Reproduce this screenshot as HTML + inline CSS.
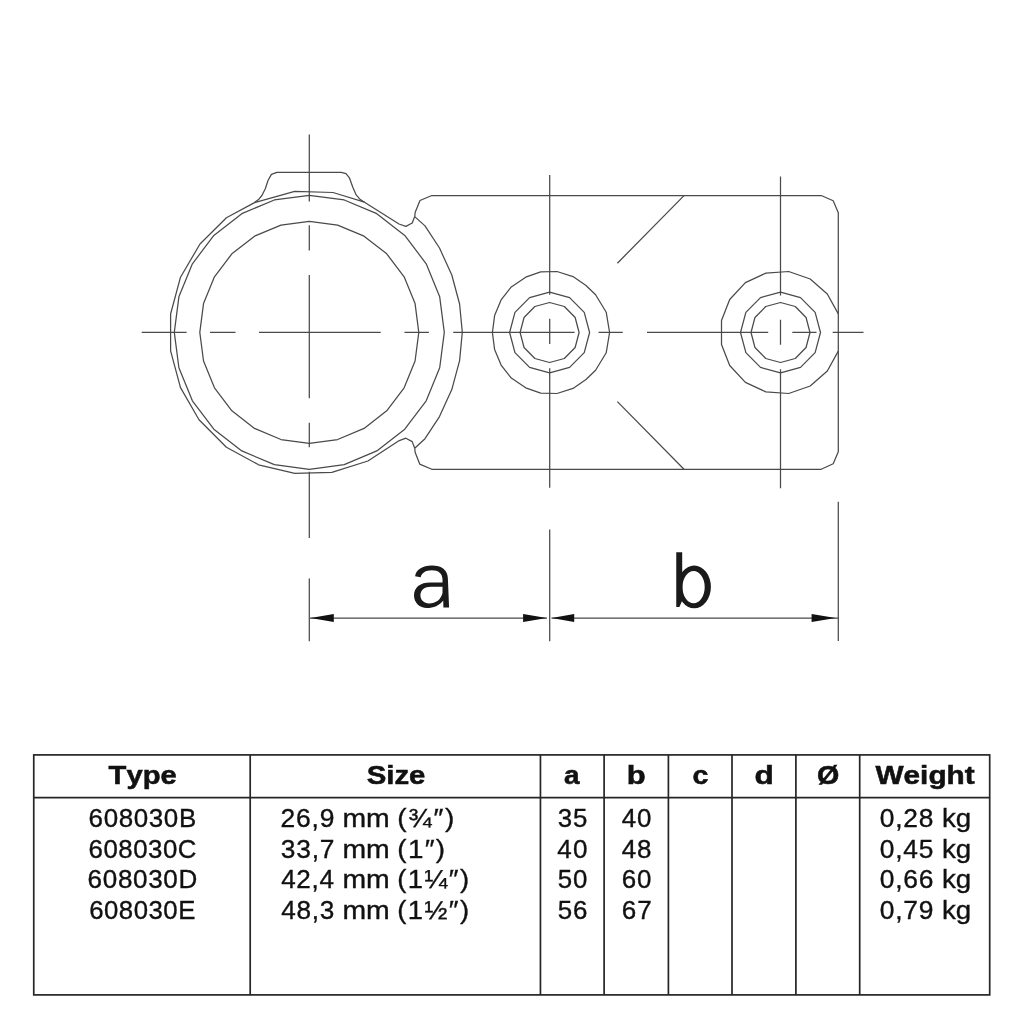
<!DOCTYPE html>
<html><head><meta charset="utf-8"><style>
html,body{margin:0;padding:0;background:#fff;width:1024px;height:1024px;overflow:hidden}
svg{display:block;filter:grayscale(1)}
text{font-family:"Liberation Sans",sans-serif;font-kerning:none}
</style></head><body>
<svg width="1024" height="1024" viewBox="0 0 1024 1024">
<rect width="1024" height="1024" fill="#fff"/>
<g fill="none" stroke="#4a4a4a" stroke-width="1.25" stroke-linejoin="round" stroke-linecap="butt">
<path d="M418.80,332.30 L415.07,303.57 L404.13,276.80 L386.73,253.81 L364.05,236.17 L337.64,225.08 L309.30,221.30 L280.96,225.08 L254.55,236.17 L231.87,253.81 L214.47,276.80 L203.53,303.57 L199.80,332.30 L203.53,361.03 L214.47,387.80 L231.87,410.79 L254.55,428.43 L280.96,439.52 L309.30,443.30 L337.64,439.52 L364.05,428.43 L386.73,410.79 L404.13,387.80 L415.07,361.03 Z"/>
<path d="M444.30,332.30 L439.70,296.84 L426.21,263.80 L404.76,235.43 L376.80,213.65 L344.24,199.97 L309.30,195.30 L274.36,199.97 L241.80,213.65 L213.84,235.43 L192.39,263.80 L178.90,296.84 L174.30,332.30 L178.90,367.76 L192.39,400.80 L213.84,429.17 L241.80,450.95 L274.36,464.63 L309.30,469.30 L344.24,464.63 L376.80,450.95 L404.76,429.17 L426.21,400.80 L439.70,367.76 Z"/>
<path d="M414.70,216.60 L412.20,223.00 L405.90,226.40 L399.00,224.00 L364.50,202.20 L360.30,199.60 L356.20,194.90 L352.80,187.30 L349.40,177.80 L346.00,173.70 L341.20,172.30 L276.90,172.30 L271.40,174.40 L268.00,180.50 L265.30,188.70 L261.90,195.50 L258.50,199.60 L254.50,202.60 L226.40,217.70 L200.00,244.00 L180.50,277.20 L170.60,314.00 L170.60,350.80 L180.50,387.60 L199.00,419.80 L226.40,447.20 L258.60,464.80 L294.80,473.40 L331.90,472.40 L367.90,461.00 L399.30,440.60 L405.90,438.20 L412.20,441.60 L414.70,448.20"/>
<path d="M254.50,202.60 L294.70,191.40 L333.00,192.50 L364.50,202.20"/>
<path d="M414.70,216.60 L415.20,212.20 L420.00,200.50 L431.80,195.50 L821.20,195.50 L833.20,200.80 L838.30,212.80 L838.30,451.80 L833.20,463.80 L821.20,469.30 L431.80,469.30 L419.70,464.10 L415.20,452.60 L414.70,448.20"/>
<path d="M414.70,216.60 L425.00,225.90 L439.50,248.00 L451.80,275.00 L459.60,304.00 L462.30,332.30 L459.60,360.60 L451.80,389.60 L439.50,416.60 L425.00,438.70 L414.70,448.20"/>
<path d="M684,195.6 L617.4,263.2 M684,469.2 L617.4,401.6"/>
<path d="M492.40,332.50 L494.60,315.60 L501.10,299.90 L511.30,286.90 L525.70,277.20 L540.70,271.80 L557.00,271.50 L573.00,276.60 L586.00,285.50 L595.60,294.70 L606.20,312.20 L609.60,332.50 L606.20,352.80 L595.60,370.30 L586.00,379.50 L573.00,388.40 L557.00,393.50 L540.70,393.20 L525.70,387.80 L511.30,378.10 L501.10,365.10 L494.60,349.40 Z"/>
<path d="M549.60,292.20 L529.60,297.60 L514.96,312.35 L509.60,332.50 L514.96,352.65 L529.60,367.40 L549.60,372.80 L569.60,367.40 L584.24,352.65 L589.60,332.50 L584.24,312.35 L569.60,297.60 Z"/>
<path d="M549.60,302.50 L534.85,306.52 L524.05,317.50 L520.10,332.50 L524.05,347.50 L534.85,358.48 L549.60,362.50 L564.35,358.48 L575.15,347.50 L579.10,332.50 L575.15,317.50 L564.35,306.52 Z"/>
<path d="M838.30,313.90 L827.30,294.00 L810.20,279.00 L788.70,271.50 L765.90,273.10 L745.40,282.60 L729.70,299.50 L721.50,320.50 L721.50,344.50 L729.70,365.50 L745.40,382.40 L765.90,391.90 L788.70,393.50 L810.20,386.00 L827.30,371.00 L838.30,351.10"/>
<path d="M780.50,292.20 L760.50,297.60 L745.86,312.35 L740.50,332.50 L745.86,352.65 L760.50,367.40 L780.50,372.80 L800.50,367.40 L815.14,352.65 L820.50,332.50 L815.14,312.35 L800.50,297.60 Z"/>
<path d="M780.50,302.50 L765.75,306.52 L754.95,317.50 L751.00,332.50 L754.95,347.50 L765.75,358.48 L780.50,362.50 L795.25,358.48 L806.05,347.50 L810.00,332.50 L806.05,317.50 L795.25,306.52 Z"/>
<path d="M141.7,332.4 L186.6,332.4 M210,332.4 L235.5,332.4 M259,332.4 L380.7,332.4 M404.5,332.4 L428.9,332.4 M453.2,332.4 L574.6,332.4 M598.5,332.4 L622.8,332.4 M647,332.4 L768.2,332.4 M792.3,332.4 L816.5,332.4 M832.7,332.4 L863.5,332.4 M309.3,134.6 L309.3,201.4 M309.3,225.2 L309.3,250.5 M309.3,275 L309.3,398.2 M309.3,422.7 L309.3,447.3 M309.3,471.8 L309.3,537.9 M309.3,578.4 L309.3,641.3 M549.7,175 L549.7,294.7 M549.7,318.7 L549.7,344.1 M549.7,368.2 L549.7,487.8 M549.7,529.4 L549.7,641.3 M780.5,176.4 L780.5,295.4 M780.5,319.8 L780.5,344.8 M780.5,369.2 L780.5,488.2 M838.3,501.8 L838.3,641.1" stroke-width="1.25"/>
<path d="M310,618.0 L547,618.0 M551.5,618.0 L838,618.0" stroke-width="1.25"/>
<path d="M310.5,618.0 L333.8,614.1 L333.8,621.9 Z M546.8,618.0 L523.1,614.1 L523.1,621.9 Z M551.6,618.0 L574.2,614.1 L574.2,621.9 Z M835.6,618.0 L811.6,614.1 L811.6,621.9 Z " fill="#111" stroke="none"/>
</g>
<g fill="none" stroke="#262626" stroke-width="1.7">
<rect x="33.75" y="754.9" width="955.95" height="240.0" fill="none"/><path d="M33.75,797.6 L989.7,797.6 M250.2,754.9 L250.2,994.9 M540.45,754.9 L540.45,994.9 M604.1,754.9 L604.1,994.9 M668.4,754.9 L668.4,994.9 M732.0,754.9 L732.0,994.9 M795.9,754.9 L795.9,994.9 M859.7,754.9 L859.7,994.9"/>
</g>
<path d="M415.1,576.3 C415.8,570.0 422.5,565.6 431.8,565.6 C441.5,565.6 447.9,570 447.9,579 L449.1,607.5 L443.4,607.5 L443.2,600.5 C439.5,605.5 433.5,608 427,608 C419.5,608 414,602.5 414,595.5 C414,587 420.5,582.4 430,582.4 L442.5,582.4 L442.5,579.5 C442.5,573.5 438.5,570.2 431.8,570.2 C425.5,570.2 421.5,573 420.7,577.3 Z M431,586.7 L442.5,586.7 L442.5,593 C441,599.5 436,603.4 429,603.4 C424,603.4 420.4,600 420.4,595.3 C420.4,590 424.5,586.7 431,586.7 Z" fill="#1a1a1a" fill-rule="evenodd"/>
<path d="M710.90,586.90 A16.7,21.4 0 1 0 677.50,586.90 A16.7,21.4 0 1 0 710.90,586.90 Z M704.70,587.20 A11.1,16.1 0 1 0 682.50,587.20 A11.1,16.1 0 1 0 704.70,587.20 Z" fill="#1a1a1a" fill-rule="evenodd"/>
<path d="M676.25,552.25 L682.2,552.25 L682.2,600.5 L679.4,607.1 L676.25,607.1 Z" fill="#1a1a1a"/>
<text transform="translate(108.57,784.40) scale(1.0932,1)" font-size="26.7" font-weight="bold" fill="#111" stroke="#111" stroke-width="0.55" letter-spacing="0.000">Type</text>
<text transform="translate(366.65,784.40) scale(1.0996,1)" font-size="26.7" font-weight="bold" fill="#111" stroke="#111" stroke-width="0.55" letter-spacing="-0.000">Size</text>
<text transform="translate(564.08,784.40) scale(1.0466,1)" font-size="26.7" font-weight="bold" fill="#111" stroke="#111" stroke-width="0.55">a</text>
<text transform="translate(626.86,784.40) scale(1.1595,1)" font-size="26.7" font-weight="bold" fill="#111" stroke="#111" stroke-width="0.55">b</text>
<text transform="translate(692.59,784.40) scale(1.0673,1)" font-size="26.7" font-weight="bold" fill="#111" stroke="#111" stroke-width="0.55">c</text>
<text transform="translate(754.51,784.40) scale(1.1818,1)" font-size="26.7" font-weight="bold" fill="#111" stroke="#111" stroke-width="0.55">d</text>
<text transform="translate(817.03,784.40) scale(1.0719,1)" font-size="26.7" font-weight="bold" fill="#111" stroke="#111" stroke-width="0.55">Ø</text>
<text transform="translate(875.47,784.40) scale(1.1159,1)" font-size="26.7" font-weight="bold" fill="#111" stroke="#111" stroke-width="0.55" letter-spacing="0.000">Weight</text>
<text transform="translate(88.58,827.30) scale(1.0384,1)" font-size="25" font-weight="normal" fill="#111" stroke="#111" stroke-width="0.35" letter-spacing="0.601">608030B</text>
<text transform="translate(280.47,827.30) scale(1.0561,1)" font-size="25" font-weight="normal" fill="#111" stroke="#111" stroke-width="0.35" letter-spacing="0.818">26,9</text>
<text transform="translate(342.41,827.30) scale(1.1371,1)" font-size="25" font-weight="normal" fill="#111" stroke="#111" stroke-width="0.35" letter-spacing="0.000">mm</text>
<text transform="translate(397.26,827.30) scale(1.1208,1)" font-size="25" font-weight="normal" fill="#111" stroke="#111" stroke-width="0.35" letter-spacing="1.554">(¾″)</text>
<text transform="translate(557.81,827.30) scale(1.0348,1)" font-size="25" font-weight="normal" fill="#111" stroke="#111" stroke-width="0.35" letter-spacing="0.867">35</text>
<text transform="translate(621.71,827.30) scale(1.0351,1)" font-size="25" font-weight="normal" fill="#111" stroke="#111" stroke-width="0.35" letter-spacing="0.890">40</text>
<text transform="translate(879.67,827.30) scale(1.0537,1)" font-size="25" font-weight="normal" fill="#111" stroke="#111" stroke-width="0.35" letter-spacing="0.792">0,28</text>
<text transform="translate(942.03,827.30) scale(1.1078,1)" font-size="25" font-weight="normal" fill="#111" stroke="#111" stroke-width="0.35" letter-spacing="0.000">kg</text>
<text transform="translate(88.59,857.80) scale(1.0320,1)" font-size="25" font-weight="normal" fill="#111" stroke="#111" stroke-width="0.35" letter-spacing="0.512">608030C</text>
<text transform="translate(280.80,857.80) scale(1.0533,1)" font-size="25" font-weight="normal" fill="#111" stroke="#111" stroke-width="0.35" letter-spacing="0.784">33,7</text>
<text transform="translate(342.41,857.80) scale(1.1371,1)" font-size="25" font-weight="normal" fill="#111" stroke="#111" stroke-width="0.35" letter-spacing="0.000">mm</text>
<text transform="translate(397.28,857.80) scale(1.1115,1)" font-size="25" font-weight="normal" fill="#111" stroke="#111" stroke-width="0.35" letter-spacing="1.214">(1″)</text>
<text transform="translate(557.30,857.80) scale(1.0427,1)" font-size="25" font-weight="normal" fill="#111" stroke="#111" stroke-width="0.35" letter-spacing="1.075">40</text>
<text transform="translate(621.70,857.80) scale(1.0373,1)" font-size="25" font-weight="normal" fill="#111" stroke="#111" stroke-width="0.35" letter-spacing="0.941">48</text>
<text transform="translate(879.67,857.80) scale(1.0533,1)" font-size="25" font-weight="normal" fill="#111" stroke="#111" stroke-width="0.35" letter-spacing="0.786">0,45</text>
<text transform="translate(942.03,857.80) scale(1.1078,1)" font-size="25" font-weight="normal" fill="#111" stroke="#111" stroke-width="0.35" letter-spacing="0.000">kg</text>
<text transform="translate(87.58,888.30) scale(1.0414,1)" font-size="25" font-weight="normal" fill="#111" stroke="#111" stroke-width="0.35" letter-spacing="0.655">608030D</text>
<text transform="translate(281.20,888.30) scale(1.0428,1)" font-size="25" font-weight="normal" fill="#111" stroke="#111" stroke-width="0.35" letter-spacing="0.647">42,4</text>
<text transform="translate(342.41,888.30) scale(1.1371,1)" font-size="25" font-weight="normal" fill="#111" stroke="#111" stroke-width="0.35" letter-spacing="0.000">mm</text>
<text transform="translate(397.30,888.30) scale(1.0984,1)" font-size="25" font-weight="normal" fill="#111" stroke="#111" stroke-width="0.35" letter-spacing="1.280">(1¼″)</text>
<text transform="translate(557.76,888.30) scale(1.0343,1)" font-size="25" font-weight="normal" fill="#111" stroke="#111" stroke-width="0.35" letter-spacing="0.856">50</text>
<text transform="translate(621.68,888.30) scale(1.0360,1)" font-size="25" font-weight="normal" fill="#111" stroke="#111" stroke-width="0.35" letter-spacing="0.887">60</text>
<text transform="translate(879.67,888.30) scale(1.0539,1)" font-size="25" font-weight="normal" fill="#111" stroke="#111" stroke-width="0.35" letter-spacing="0.794">0,66</text>
<text transform="translate(942.03,888.30) scale(1.1078,1)" font-size="25" font-weight="normal" fill="#111" stroke="#111" stroke-width="0.35" letter-spacing="0.000">kg</text>
<text transform="translate(89.19,918.80) scale(1.0309,1)" font-size="25" font-weight="normal" fill="#111" stroke="#111" stroke-width="0.35" letter-spacing="0.489">608030E</text>
<text transform="translate(281.20,918.80) scale(1.0470,1)" font-size="25" font-weight="normal" fill="#111" stroke="#111" stroke-width="0.35" letter-spacing="0.703">48,3</text>
<text transform="translate(342.41,918.80) scale(1.1371,1)" font-size="25" font-weight="normal" fill="#111" stroke="#111" stroke-width="0.35" letter-spacing="0.000">mm</text>
<text transform="translate(397.30,918.80) scale(1.0984,1)" font-size="25" font-weight="normal" fill="#111" stroke="#111" stroke-width="0.35" letter-spacing="1.280">(1½″)</text>
<text transform="translate(557.76,918.80) scale(1.0368,1)" font-size="25" font-weight="normal" fill="#111" stroke="#111" stroke-width="0.35" letter-spacing="0.912">56</text>
<text transform="translate(621.68,918.80) scale(1.0419,1)" font-size="25" font-weight="normal" fill="#111" stroke="#111" stroke-width="0.35" letter-spacing="1.017">67</text>
<text transform="translate(879.67,918.80) scale(1.0549,1)" font-size="25" font-weight="normal" fill="#111" stroke="#111" stroke-width="0.35" letter-spacing="0.806">0,79</text>
<text transform="translate(942.03,918.80) scale(1.1078,1)" font-size="25" font-weight="normal" fill="#111" stroke="#111" stroke-width="0.35" letter-spacing="0.000">kg</text>
</svg>
</body></html>
